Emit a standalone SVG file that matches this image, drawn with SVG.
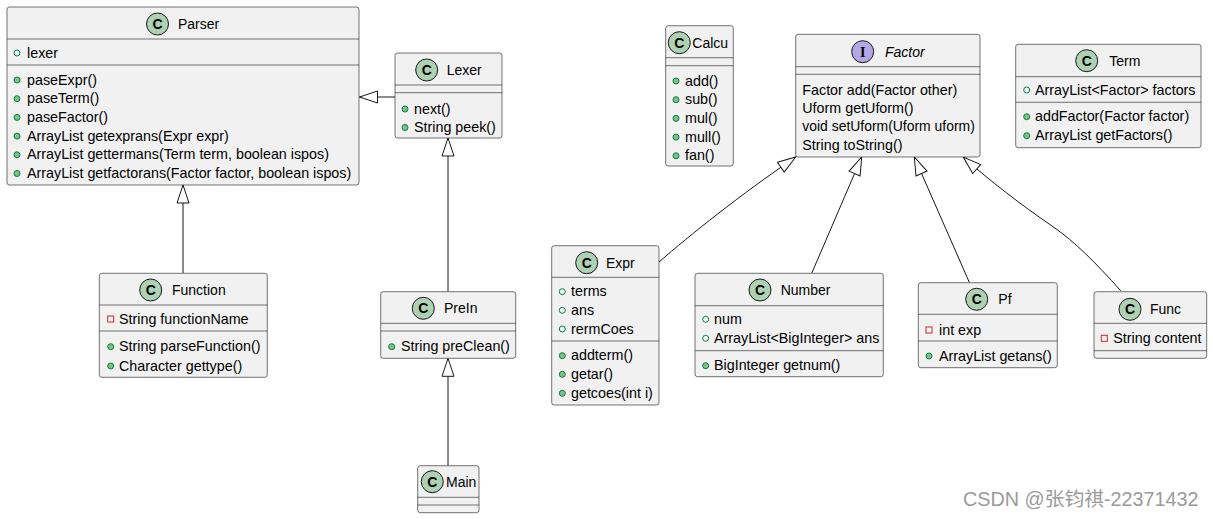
<svg xmlns="http://www.w3.org/2000/svg" width="1213" height="519" viewBox="0 0 1213 519">
<defs>
<style>
.box{fill:#F1F1F1;stroke:#181818;stroke-width:0.6}
.sep{stroke:#181818;stroke-width:0.6}
.cc{fill:#ADD1B2;stroke:#181818;stroke-width:1}
.ci{fill:#B4A7E5;stroke:#181818;stroke-width:1}
.cl{font-family:"Liberation Sans",Arial,sans-serif;font-size:14px;font-weight:bold;fill:#000;text-anchor:middle}
.t{font-family:"Liberation Sans",Arial,sans-serif;font-size:14px;fill:#000}
.ti{font-family:"Liberation Sans",Arial,sans-serif;font-size:14px;font-style:italic;fill:#000}
.m{font-family:"Liberation Sans",Arial,sans-serif;font-size:14.3px;fill:#000}
.pm{fill:#84BE84;stroke:#038048;stroke-width:1}
.pf{fill:none;stroke:#038048;stroke-width:1}
.pr{fill:none;stroke:#C82930;stroke-width:1}
.edge{fill:none;stroke:#181818;stroke-width:1;marker-end:url(#tri)}
.wm{font-family:"Liberation Sans","Noto Sans CJK SC",sans-serif;font-size:19.8px;fill:#9a9a9a}
</style>
<marker id="tri" markerUnits="userSpaceOnUse" markerWidth="20" markerHeight="14" refX="18" refY="7" orient="auto" overflow="visible">
<path d="M0,1 L18,7 L0,13 Z" fill="#FFFFFF" stroke="#181818" stroke-width="1"/>
</marker>
</defs>
<rect width="1213" height="519" fill="#FFFFFF"/>

<g id="connectors">
<path class="edge" d="M395,97 L359.5,97"/>
<path class="edge" d="M183,273.3 L183,185"/>
<path class="edge" d="M448,291.7 L448,138"/>
<path class="edge" d="M448,465.7 L448,358.3"/>
<path class="edge" d="M659,262 C690,235 740,195 795.7,157"/>
<path class="edge" d="M811.7,273.3 L861.7,157"/>
<path class="edge" d="M969.3,282.3 L914.3,157"/>
<path class="edge" d="M1120.7,290.7 C1095,262 1075,242 1053,226.7 C1020,204 990,181 963.3,157"/>
</g>

<g id="Parser">
<rect class="box" x="7" y="7" width="352" height="178" rx="2.5"/>
<line class="sep" x1="7" y1="39" x2="359" y2="39"/>
<line class="sep" x1="7" y1="65" x2="359" y2="65"/>
<circle class="cc" cx="157.5" cy="24" r="11"/>
<text class="cl" x="157.5" y="29">C</text>
<text class="t" x="178" y="29">Parser</text>
<circle class="pf" cx="17" cy="53" r="3"/>
<text class="m" x="27" y="57.5">lexer</text>
<circle class="pm" cx="17" cy="80" r="3"/><text class="m" x="27" y="84.5">paseExpr()</text>
<circle class="pm" cx="17" cy="98.7" r="3"/><text class="m" x="27" y="103.2">paseTerm()</text>
<circle class="pm" cx="17" cy="117.4" r="3"/><text class="m" x="27" y="121.9">paseFactor()</text>
<circle class="pm" cx="17" cy="136.1" r="3"/><text class="m" x="27" y="140.6">ArrayList getexprans(Expr expr)</text>
<circle class="pm" cx="17" cy="154.8" r="3"/><text class="m" x="27" y="159.3">ArrayList gettermans(Term term, boolean ispos)</text>
<circle class="pm" cx="17" cy="173.5" r="3"/><text class="m" x="27" y="178">ArrayList getfactorans(Factor factor, boolean ispos)</text>
</g>

<g id="Lexer">
<rect class="box" x="395" y="53" width="107" height="85" rx="2.5"/>
<line class="sep" x1="395" y1="85" x2="502" y2="85"/>
<line class="sep" x1="395" y1="92.7" x2="502" y2="92.7"/>
<circle class="cc" cx="426.7" cy="70" r="11"/>
<text class="cl" x="426.7" y="75">C</text>
<text class="t" x="446.7" y="75">Lexer</text>
<circle class="pm" cx="405" cy="109" r="3"/><text class="m" x="414" y="113.5">next()</text>
<circle class="pm" cx="405" cy="127.5" r="3"/><text class="m" x="414" y="132">String peek()</text>
</g>

<g id="Function">
<rect class="box" x="99.3" y="273.3" width="168" height="104" rx="2.5"/>
<line class="sep" x1="99.3" y1="305" x2="267.3" y2="305"/>
<line class="sep" x1="99.3" y1="331" x2="267.3" y2="331"/>
<circle class="cc" cx="150.7" cy="290" r="11"/>
<text class="cl" x="150.7" y="295">C</text>
<text class="t" x="172" y="295">Function</text>
<rect class="pr" x="107.7" y="316" width="6" height="6"/>
<text class="m" x="119" y="323.5">String functionName</text>
<circle class="pm" cx="110.7" cy="346.7" r="3"/><text class="m" x="119" y="351.2">String parseFunction()</text>
<circle class="pm" cx="110.7" cy="366" r="3"/><text class="m" x="119" y="370.5">Character gettype()</text>
</g>

<g id="PreIn">
<rect class="box" x="380.7" y="291.7" width="135" height="66.6" rx="2.5"/>
<line class="sep" x1="380.7" y1="323.3" x2="515.7" y2="323.3"/>
<line class="sep" x1="380.7" y1="331" x2="515.7" y2="331"/>
<circle class="cc" cx="423.3" cy="308.3" r="11"/>
<text class="cl" x="423.3" y="313.3">C</text>
<text class="t" x="444" y="313.3">PreIn</text>
<circle class="pm" cx="391.7" cy="346.7" r="3"/><text class="m" x="401" y="351.2">String preClean()</text>
</g>

<g id="Main">
<rect class="box" x="417.7" y="465.7" width="61.3" height="47" rx="2.5"/>
<line class="sep" x1="417.7" y1="497.3" x2="479" y2="497.3"/>
<line class="sep" x1="417.7" y1="505" x2="479" y2="505"/>
<circle class="cc" cx="432.3" cy="481.7" r="11"/>
<text class="cl" x="432.3" y="486.7">C</text>
<text class="t" x="446" y="486.7">Main</text>
</g>

<g id="Calcu">
<rect class="box" x="665.7" y="25.7" width="67.6" height="140.3" rx="2.5"/>
<line class="sep" x1="665.7" y1="57.7" x2="733.3" y2="57.7"/>
<line class="sep" x1="665.7" y1="65.7" x2="733.3" y2="65.7"/>
<circle class="cc" cx="679.3" cy="42.7" r="11"/>
<text class="cl" x="679.3" y="47.7">C</text>
<text class="t" x="692.3" y="47.7">Calcu</text>
<circle class="pm" cx="676" cy="81" r="3"/><text class="m" x="685" y="85.5">add()</text>
<circle class="pm" cx="676" cy="99.7" r="3"/><text class="m" x="685" y="104.2">sub()</text>
<circle class="pm" cx="676" cy="118.4" r="3"/><text class="m" x="685" y="122.9">mul()</text>
<circle class="pm" cx="676" cy="137.1" r="3"/><text class="m" x="685" y="141.6">mull()</text>
<circle class="pm" cx="676" cy="155.8" r="3"/><text class="m" x="685" y="160.3">fan()</text>
</g>

<g id="Factor">
<rect class="box" x="795.7" y="34.3" width="184.3" height="122.7" rx="2.5"/>
<line class="sep" x1="795.7" y1="66.7" x2="980" y2="66.7"/>
<line class="sep" x1="795.7" y1="74.3" x2="980" y2="74.3"/>
<circle class="ci" cx="862.7" cy="51.7" r="11"/>
<text class="cl" x="862.7" y="56.7" style="font-family:'Liberation Serif',serif">I</text>
<text class="ti" x="885" y="56.7">Factor</text>
<text class="m" x="802.3" y="94.5">Factor add(Factor other)</text>
<text class="m" x="802.3" y="112.8">Uform getUform()</text>
<text class="m" x="802.3" y="131.2" textLength="172.5" lengthAdjust="spacingAndGlyphs">void setUform(Uform uform)</text>
<text class="m" x="802.3" y="149.5">String toString()</text>
</g>

<g id="Term">
<rect class="box" x="1015.7" y="44.3" width="185.3" height="103.4" rx="2.5"/>
<line class="sep" x1="1015.7" y1="76.7" x2="1201" y2="76.7"/>
<line class="sep" x1="1015.7" y1="102.3" x2="1201" y2="102.3"/>
<circle class="cc" cx="1086.7" cy="60.7" r="11"/>
<text class="cl" x="1086.7" y="65.7">C</text>
<text class="t" x="1109.3" y="65.7">Term</text>
<circle class="pf" cx="1026.7" cy="90" r="3"/><text class="m" x="1035" y="94.5">ArrayList&lt;Factor&gt; factors</text>
<circle class="pm" cx="1026.7" cy="116.7" r="3"/><text class="m" x="1035" y="121.2">addFactor(Factor factor)</text>
<circle class="pm" cx="1026.7" cy="135.7" r="3"/><text class="m" x="1035" y="140.2">ArrayList getFactors()</text>
</g>

<g id="Expr">
<rect class="box" x="551.7" y="245.7" width="107.3" height="159.3" rx="2.5"/>
<line class="sep" x1="551.7" y1="277.3" x2="659" y2="277.3"/>
<line class="sep" x1="551.7" y1="341" x2="659" y2="341"/>
<circle class="cc" cx="586.7" cy="262.7" r="11"/>
<text class="cl" x="586.7" y="267.7">C</text>
<text class="t" x="606" y="267.7">Expr</text>
<circle class="pf" cx="562.3" cy="291.7" r="3"/><text class="m" x="571" y="296.2">terms</text>
<circle class="pf" cx="562.3" cy="310.3" r="3"/><text class="m" x="571" y="314.8">ans</text>
<circle class="pf" cx="562.3" cy="329" r="3"/><text class="m" x="571" y="333.5">rermCoes</text>
<circle class="pm" cx="562.3" cy="355.7" r="3"/><text class="m" x="571" y="360.2">addterm()</text>
<circle class="pm" cx="562.3" cy="374.3" r="3"/><text class="m" x="571" y="378.8">getar()</text>
<circle class="pm" cx="562.3" cy="393.3" r="3"/><text class="m" x="571" y="397.8">getcoes(int i)</text>
</g>

<g id="Number">
<rect class="box" x="695" y="273.3" width="188.3" height="103.4" rx="2.5"/>
<line class="sep" x1="695" y1="305.7" x2="883.3" y2="305.7"/>
<line class="sep" x1="695" y1="350.7" x2="883.3" y2="350.7"/>
<circle class="cc" cx="760" cy="290" r="11"/>
<text class="cl" x="760" y="295">C</text>
<text class="t" x="780.7" y="295">Number</text>
<circle class="pf" cx="705.7" cy="319.3" r="3"/><text class="m" x="714" y="323.8">num</text>
<circle class="pf" cx="705.7" cy="338.3" r="3"/><text class="m" x="714" y="342.8">ArrayList&lt;BigInteger&gt; ans</text>
<circle class="pm" cx="705.7" cy="365.7" r="3"/><text class="m" x="714" y="370.2">BigInteger getnum()</text>
</g>

<g id="Pf">
<rect class="box" x="918.3" y="282.7" width="139" height="85" rx="2.5"/>
<line class="sep" x1="918.3" y1="314.3" x2="1057.3" y2="314.3"/>
<line class="sep" x1="918.3" y1="341" x2="1057.3" y2="341"/>
<circle class="cc" cx="976.7" cy="299.3" r="11"/>
<text class="cl" x="976.7" y="304.3">C</text>
<text class="t" x="998.3" y="304.3">Pf</text>
<rect class="pr" x="926" y="327" width="6" height="6"/>
<text class="m" x="939" y="334.5">int exp</text>
<circle class="pm" cx="929" cy="356" r="3"/><text class="m" x="939" y="360.5">ArrayList getans()</text>
</g>

<g id="Func">
<rect class="box" x="1094" y="291.7" width="112.7" height="66.6" rx="2.5"/>
<line class="sep" x1="1094" y1="323.3" x2="1206.7" y2="323.3"/>
<line class="sep" x1="1094" y1="350.7" x2="1206.7" y2="350.7"/>
<circle class="cc" cx="1130" cy="309.3" r="11"/>
<text class="cl" x="1130" y="314.3">C</text>
<text class="t" x="1150" y="314.3">Func</text>
<rect class="pr" x="1101.3" y="335.3" width="6" height="6"/>
<text class="m" x="1113.3" y="342.8">String content</text>
</g>

<text class="wm" x="963" y="506">CSDN @张钧祺-22371432</text>
</svg>
